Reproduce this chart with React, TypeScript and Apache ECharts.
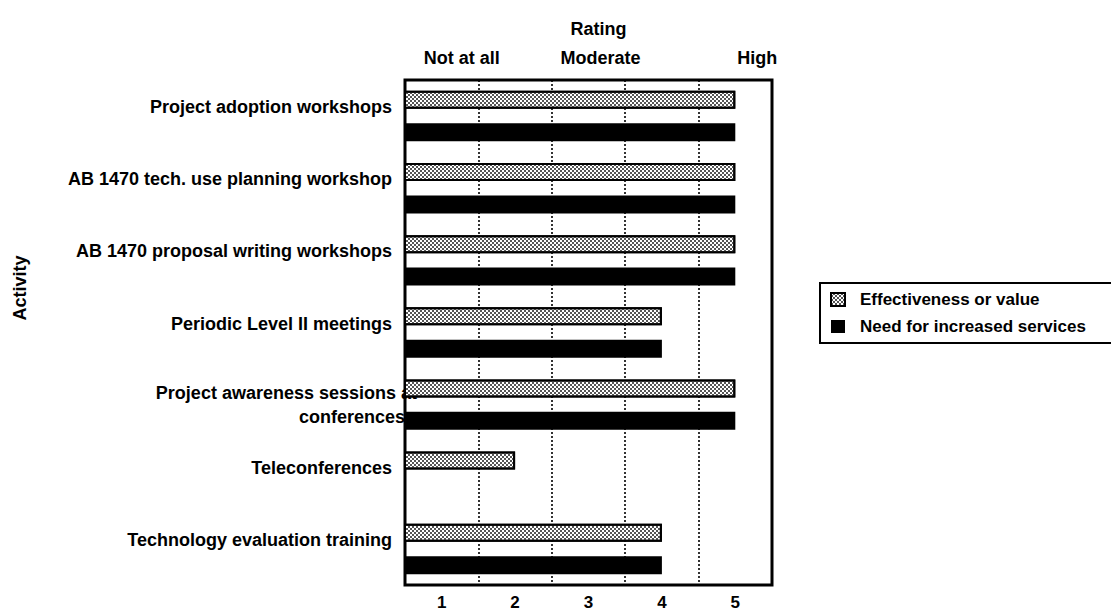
import React, { useEffect, useRef } from "react";
import * as echarts from "echarts";

const categories = [
  "Project adoption workshops",
  "AB 1470 tech. use planning workshop",
  "AB 1470 proposal writing workshops",
  "Periodic Level II meetings",
  "Project awareness sessions at conferences",
  "Teleconferences",
  "Technology evaluation training",
];
const effectiveness = [5, 5, 5, 4, 5, 2, 4];
const needForService = [5, 5, 5, 4, 5, null, 4];
const ratingTicks = [1, 2, 3, 4, 5];
const scaleValues = [1, 3, 5];
const scaleLabels = ["Not at all", "Moderate", "High"];
const seriesNames = ["Effectiveness or value", "Need for increased services"];

const FONT = '"Liberation Sans", Arial, Helvetica, sans-serif';

export default function App() {
  const ref = useRef<HTMLDivElement>(null);
  useEffect(() => {
    const chart = echarts.init(ref.current!, null, { renderer: "svg" });
    const scaleKeys = ["l", "m", "h"];
    const option: any = {
      animation: false,
      backgroundColor: "#fff",
      textStyle: { fontFamily: FONT, color: "#000" },
      grid: {
        left: 405,
        right: 339,
        top: 80,
        bottom: 29,
        show: true,
        borderColor: "#000",
        borderWidth: 3,
        backgroundColor: "transparent",
      },
      xAxis: [
        {
          type: "value",
          position: "bottom",
          min: 0.5,
          max: 5.5,
          interval: 1,
          axisLine: { show: false },
          axisTick: { show: false },
          splitLine: {
            show: true,
            lineStyle: { color: "#000", width: 1.6, type: [2, 2] },
          },
          axisLabel: {
            customValues: ratingTicks,
            fontSize: 17,
            fontWeight: "bold",
            fontFamily: FONT,
            color: "#000",
            margin: 9,
            formatter: (v: number) => String(v),
          },
        },
        {
          type: "value",
          position: "top",
          min: 0.5,
          max: 5.5,
          interval: 0.5,
          axisLine: { show: false },
          axisTick: { show: false },
          splitLine: { show: false },
          name: "Rating",
          nameLocation: "middle",
          nameGap: 42,
          nameTextStyle: {
            fontSize: 18,
            fontWeight: "bold",
            fontFamily: FONT,
            color: "#000",
            padding: [0, 0, 0, 20],
          },
          axisLabel: {
            customValues: scaleValues,
            margin: 13,
            formatter: (v: number) => {
              const i = scaleValues.indexOf(v);
              return i >= 0 ? `{${scaleKeys[i]}|${scaleLabels[i]}}` : "";
            },
            rich: {
              l: { fontSize: 18, fontWeight: "bold", fontFamily: FONT, color: "#000", padding: [0, 0, 0, 40] },
              m: { fontSize: 18, fontWeight: "bold", fontFamily: FONT, color: "#000", padding: [0, 0, 0, 24] },
              h: { fontSize: 18, fontWeight: "bold", fontFamily: FONT, color: "#000", padding: [0, 0, 0, 44] },
            },
          },
        },
      ],
      yAxis: {
        type: "category",
        data: categories,
        inverse: true,
        axisLine: { show: false },
        axisTick: { show: false },
        splitLine: { show: false },
        axisLabel: {
          margin: -12,
          formatter: (v: string) => {
            if (v === categories[4]) {
              return "{a|Project awareness sessions at}\n{b|conferences}";
            }
            return `{n|${v}}`;
          },
          rich: {
            n: { fontSize: 18, fontWeight: "bold", fontFamily: FONT, color: "#000", padding: [0, 25, 18, 0] },
            a: { fontSize: 18, fontWeight: "bold", fontFamily: FONT, color: "#000", lineHeight: 24, height: 24 },
            b: { fontSize: 18, fontWeight: "bold", fontFamily: FONT, color: "#000", lineHeight: 24, height: 24, padding: [0, 12, 0, 0] },
          },
        },
      },
      legend: {
        orient: "vertical",
        left: 820,
        top: 283,
        itemWidth: 14,
        itemHeight: 13,
        itemGap: 10,
        borderColor: "#000",
        borderWidth: 2,
        padding: [8, 300, 8, 10],
        textStyle: { fontSize: 17, fontWeight: "bold", fontFamily: FONT, color: "#000", padding: [0, 0, 0, 10] },
        data: seriesNames.map((n) => ({ name: n, icon: "rect" })),
      },
      series: [
        {
          type: "bar",
          name: seriesNames[0],
          data: effectiveness,
          barWidth: 18,
          barGap: "80%",
          itemStyle: {
            color: "#ffffff",
            borderColor: "#000",
            borderWidth: 2,
            decal: {
              symbol: "rect",
              symbolSize: 1,
              color: "#555",
              dashArrayX: [[2, 2], [0, 2, 2, 0]],
              dashArrayY: [2, 0],
              rotation: 0,
            },
          },
        },
        {
          type: "bar",
          name: seriesNames[1],
          data: needForService,
          barWidth: 18,
          itemStyle: { color: "#000" },
        },
      ],
      graphic: [
        {
          type: "text",
          x: 20,
          y: 288,
          rotation: Math.PI / 2,
          style: {
            text: "Activity",
            font: `bold 18px ${FONT}`,
            fill: "#000",
            align: "center",
            verticalAlign: "middle",
          },
        },
      ],
    };
    chart.setOption(option);
    return () => chart.dispose();
  }, []);
  return (
    <div
      ref={ref}
      style={{ position: "fixed", left: 0, top: 0, width: 1111, height: 614, background: "#fff" }}
    />
  );
}
